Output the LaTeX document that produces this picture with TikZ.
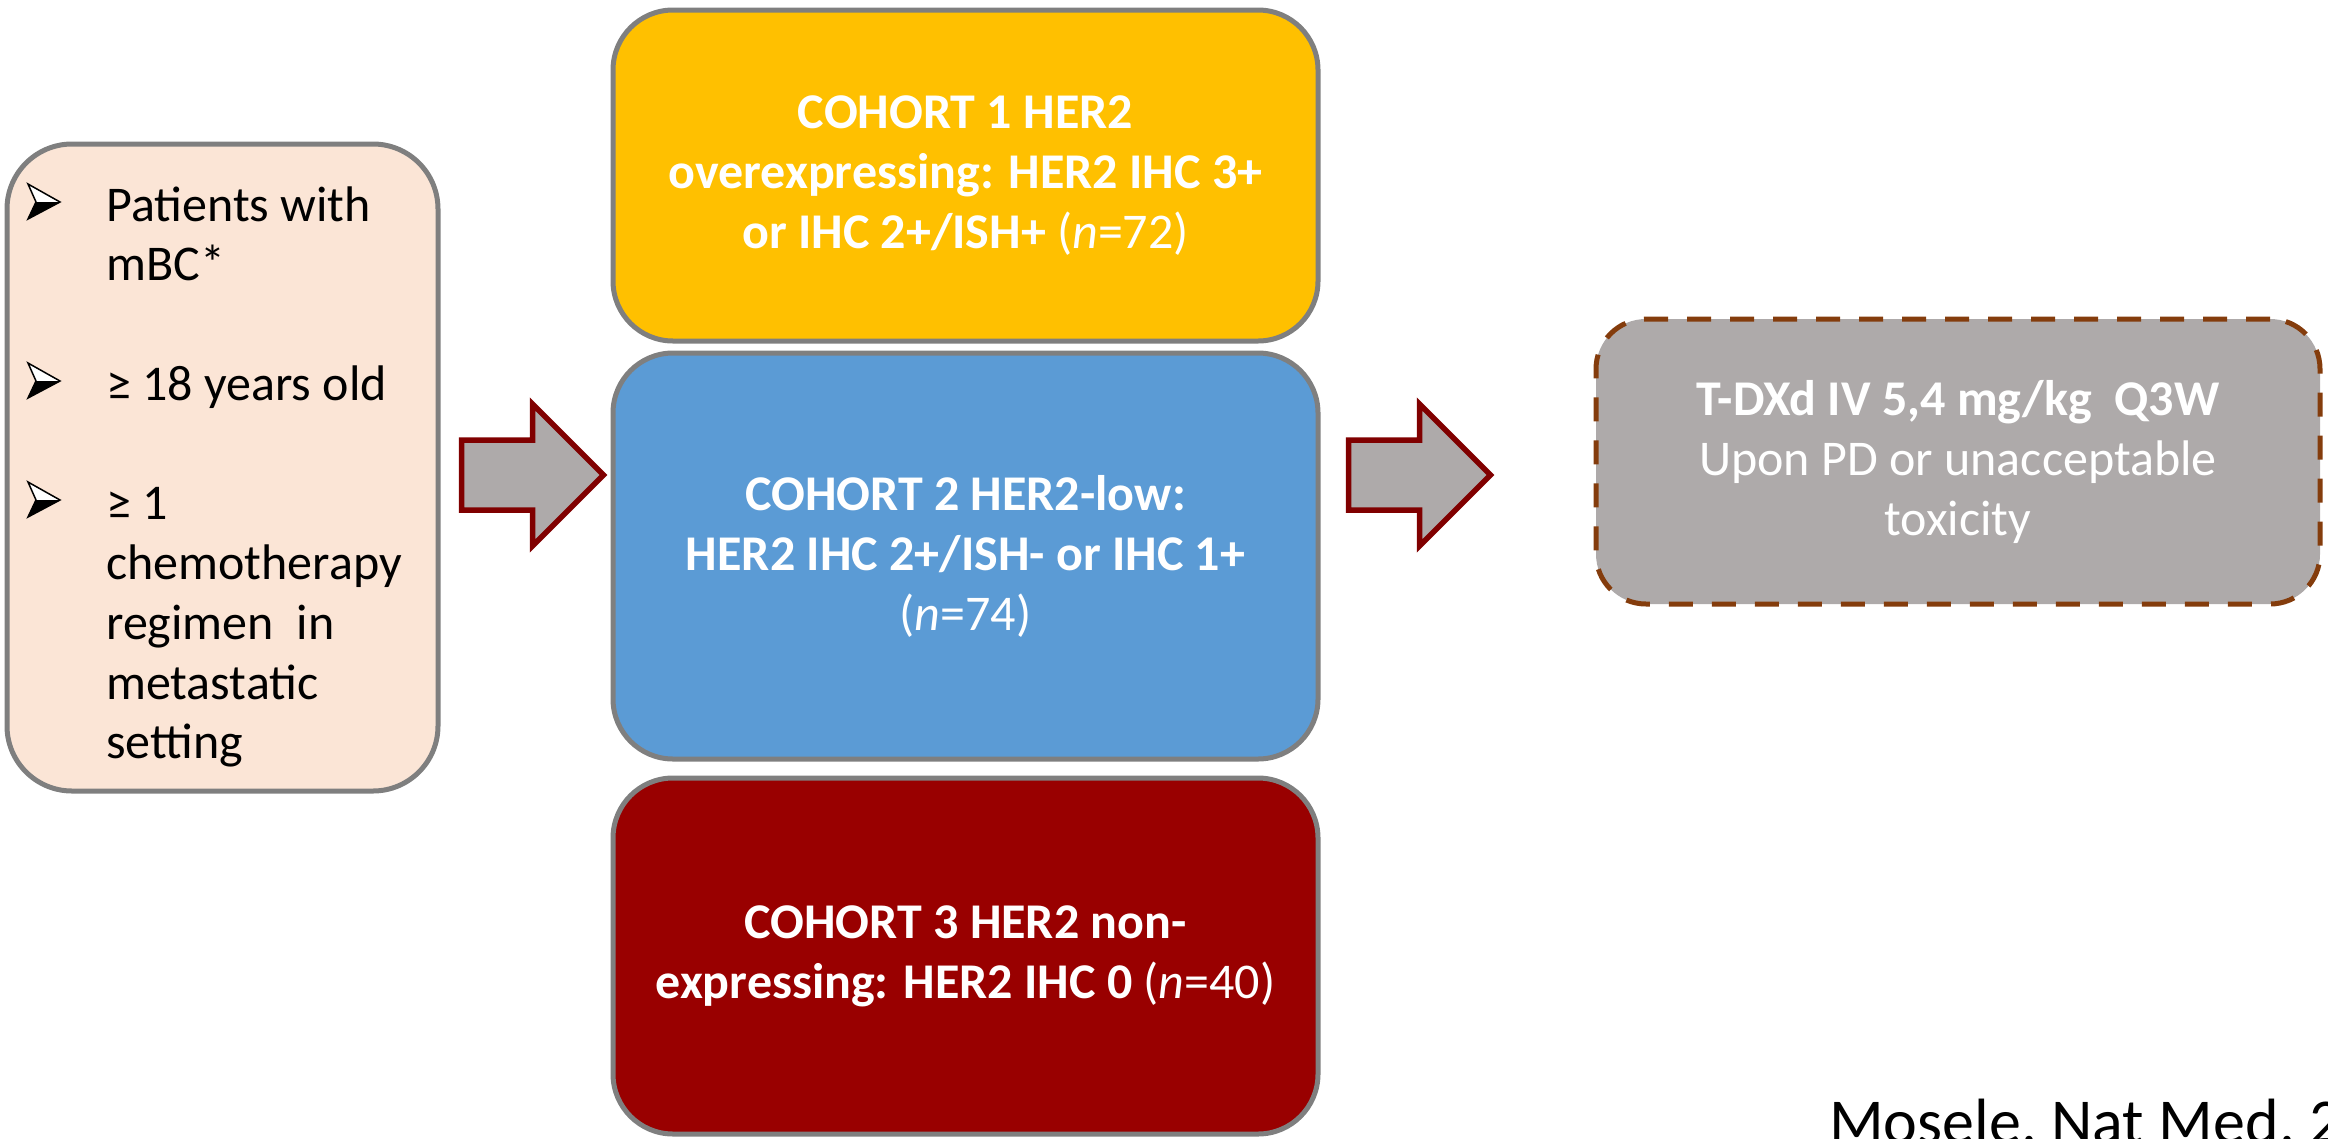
\documentclass[tikz,border=0pt]{standalone}
\usepackage{fontspec}
\setmainfont{Carlito}
\usetikzlibrary{calc}

\definecolor{critfill}{HTML}{FBE5D6}
\definecolor{boxline}{HTML}{7F7F7F}
\definecolor{cohortA}{HTML}{FFC000}
\definecolor{cohortB}{HTML}{5B9BD5}
\definecolor{cohortC}{HTML}{990000}
\definecolor{arrowfill}{HTML}{AEAAAA}
\definecolor{arrowline}{HTML}{800000}
\definecolor{dashline}{HTML}{843C0C}

\tikzset{
  roundbox/.style={draw=boxline, line width=5pt, rounded corners=60pt, inner sep=0pt},
  cohort/.style={roundbox, text=white, align=center,
    font=\fontsize{50}{60}\selectfont\bfseries},
  blockarrow/.style={draw=arrowline, fill=arrowfill, line width=5.5pt, line join=miter},
  critline/.style={anchor=base west, inner sep=0pt, font=\fontsize{50}{60}\selectfont},
}

\begin{document}
\begin{tikzpicture}[x=1pt, y=-1pt]
\useasboundingbox (0,0) rectangle (2328,1138);

% inclusion criteria
\node[roundbox, fill=critfill, minimum width=431pt, minimum height=647pt,
      rounded corners=65pt] (crit) at (222.5,467.5) {};
\foreach \t/\y [count=\i] in {Patients with/221, mBC*/280, ≥ 18 years old/400,
    ≥ 1/519, chemotherapy/579, regimen\ \ in/639, metastatic/699, setting/758}
  \node[critline] (crit-l\i) at (106,\y) {\t};

% arrowhead bullets: white upper half, black lower half
\foreach \yc in {202,381,500} {
  \fill[white] (28,\yc-18) -- (60,\yc) -- (36,\yc) -- cycle;
  \fill[black] (28,\yc+17) -- (60,\yc) -- (36,\yc) -- cycle;
  \draw[line width=1.5pt, line join=miter]
    (36,\yc) -- (28,\yc-18) -- (60,\yc) -- (28,\yc+17) -- cycle;
}

% cohorts
\node[cohort, fill=cohortA, minimum width=705pt, minimum height=331pt] (c1) at (965.5,175.5)
  {COHORT 1 HER2\\overexpressing: HER2 IHC 3+\\or IHC 2+/ISH+ {\mdseries(\textit{n}=72)}};
\node[cohort, fill=cohortB, minimum width=705pt, minimum height=406pt] (c2) at (965.5,556)
  {COHORT 2 HER2-low:\\HER2 IHC 2+/ISH- or IHC 1+\\{\mdseries(\textit{n}=74)}};
\node[cohort, fill=cohortC, minimum width=705pt, minimum height=356pt] (c3) at (965.5,956)
  {COHORT 3 HER2 non-\\expressing: HER2 IHC 0 {\mdseries(\textit{n}=40)}};

% treatment
\node[draw=dashline, fill=arrowfill, line width=5pt, dash pattern=on 24pt off 19pt,
      rounded corners=50pt, inner sep=0pt, minimum width=724pt, minimum height=285pt,
      text=white, align=center, font=\fontsize{50}{60}\selectfont] (tx) at (1958,461.5)
  {\textbf{T-DXd IV 5,4 mg/kg\ \ Q3W}\\Upon PD or unacceptable\\toxicity};

% block arrows between the stages
\coordinate (a1) at ($(crit.east |- 0,475)+(21,0)$);
\coordinate (a2) at ($(c2.east |- 0,475)+(28,0)$);
\foreach \a in {a1,a2}
  \draw[blockarrow] (\a) -- ++(0,-35) -- ++(71,0) -- ++(0,-36) -- ++(71,71)
    -- ++(-71,71) -- ++(0,-36) -- ++(-71,0) -- cycle;

% reference
\node[anchor=base west, inner sep=0pt, font=\fontsize{64}{70}\selectfont] (ref)
  at (1829,1143) {Mosele, Nat Med, 2};
\end{tikzpicture}
\end{document}
